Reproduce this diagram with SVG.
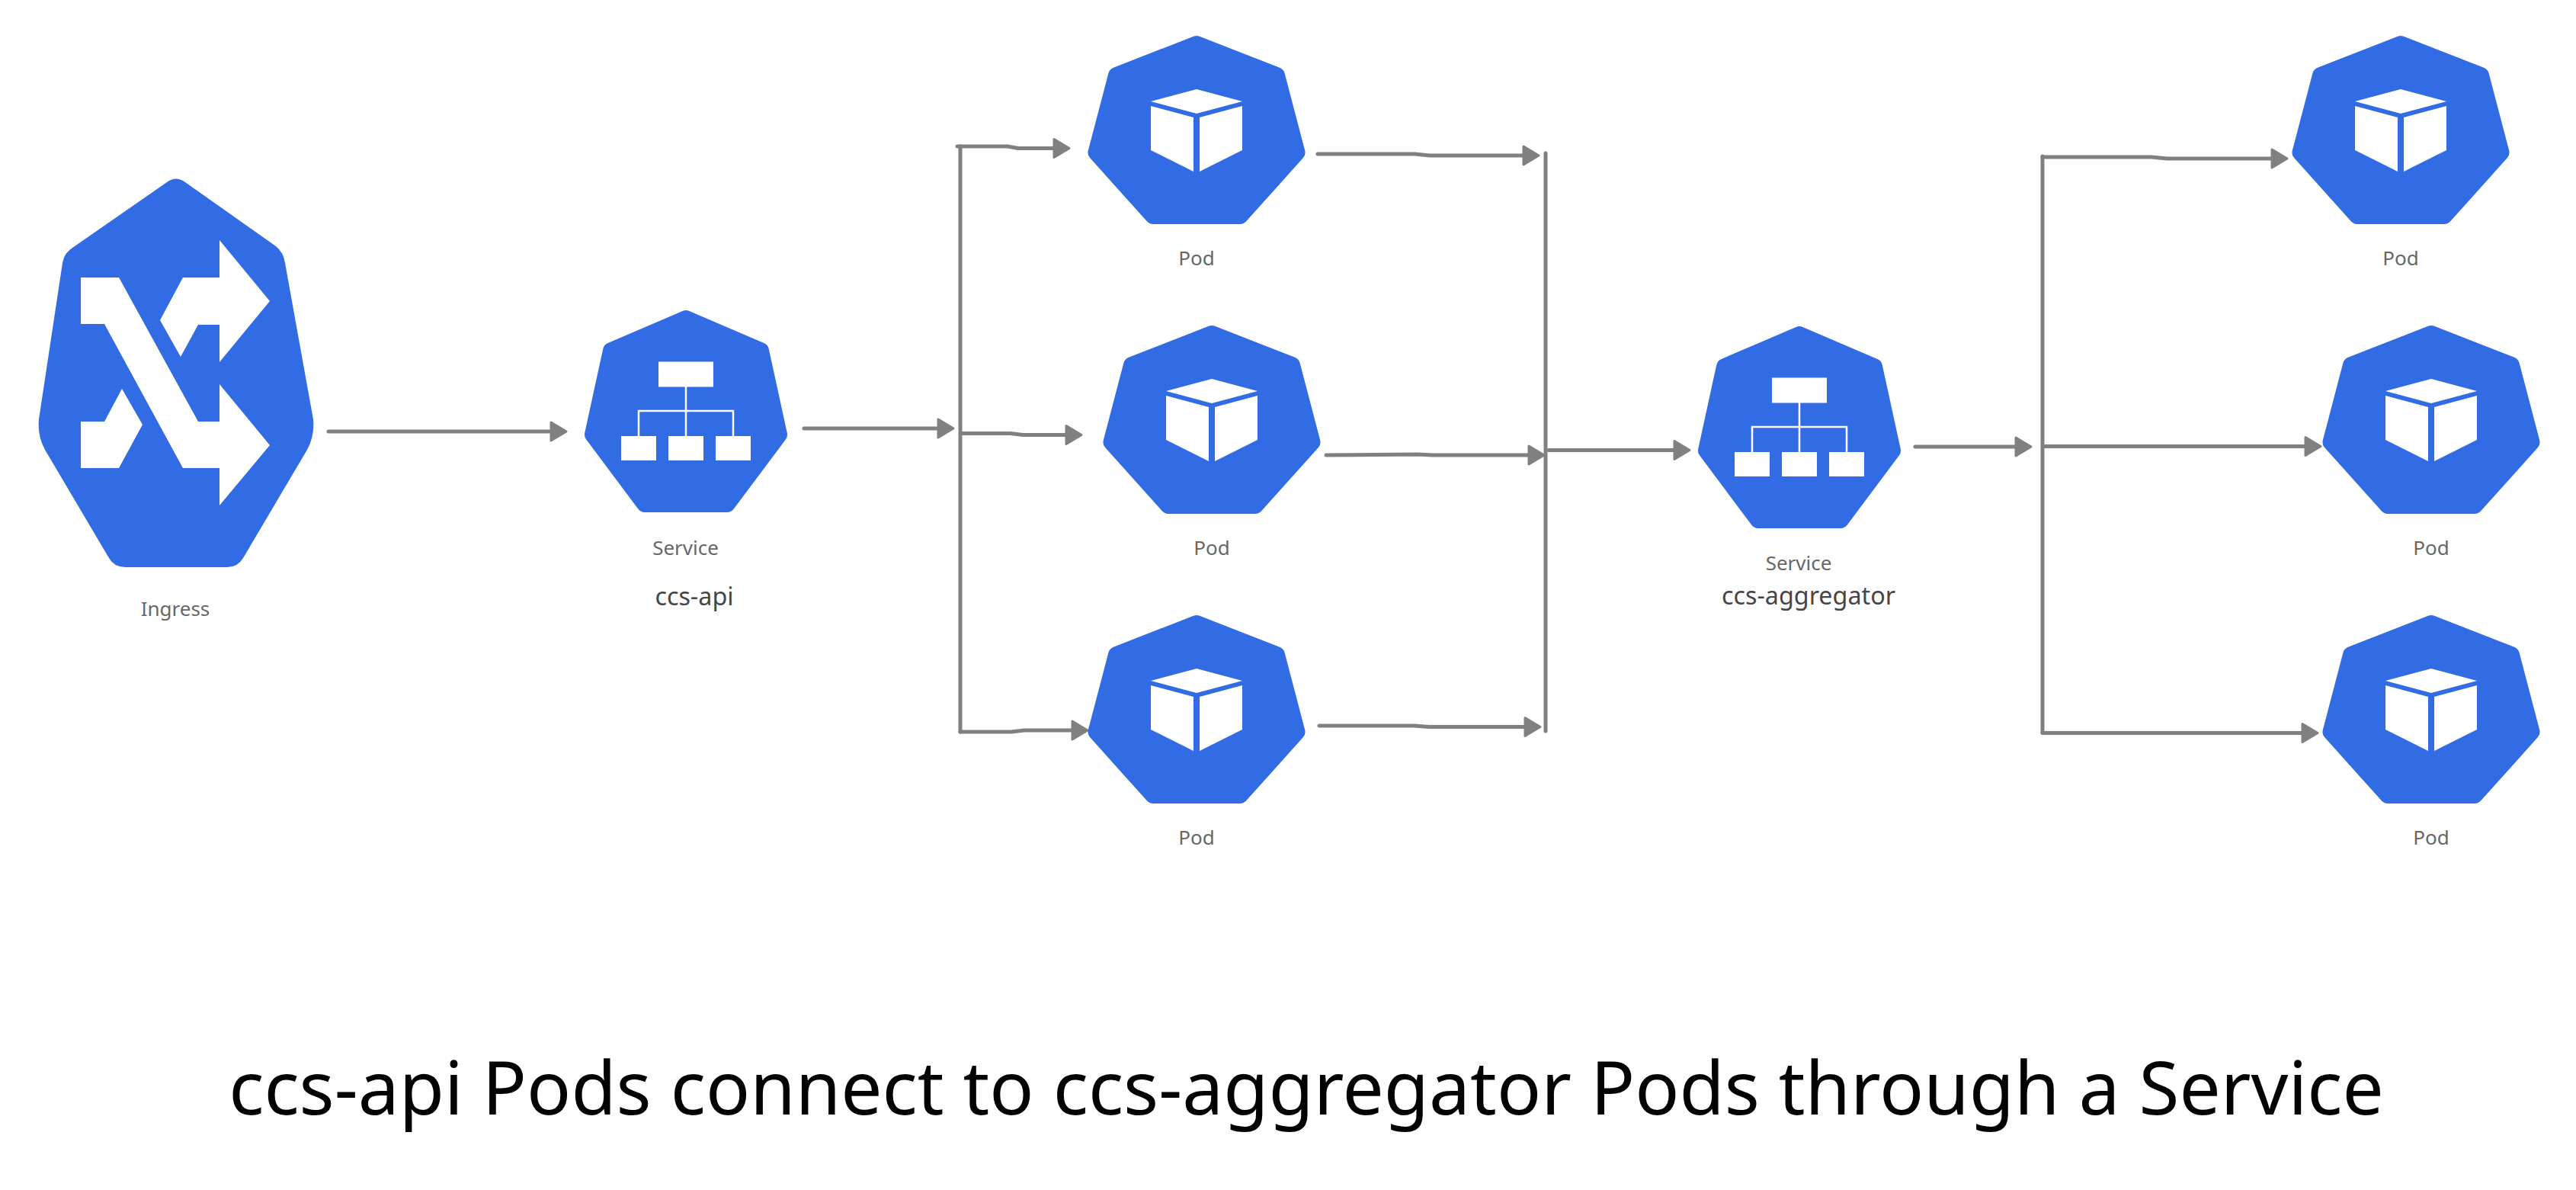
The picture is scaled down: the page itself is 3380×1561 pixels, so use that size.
<svg xmlns="http://www.w3.org/2000/svg" width="3380" height="1561" viewBox="0 0 3380 1561">
<style>
.hex{fill:#326ce5;stroke:#326ce5;stroke-width:22;stroke-linejoin:round}
.w{fill:#fff}
.wl{fill:none;stroke:#fff;stroke-width:2.5}
.c{fill:none;stroke:#808080;stroke-width:5;stroke-linecap:round;stroke-linejoin:round}
.a{marker-end:url(#head)}
text{font-family:"Noto Sans","DejaVu Sans",sans-serif;text-anchor:middle;opacity:.99}
.l{font-size:26px;fill:#666}
.n{font-size:32.3px;fill:#444}
.t{font-size:96.3px;fill:#000}
</style>
<defs>
<marker id="head" markerUnits="userSpaceOnUse" markerWidth="26" markerHeight="30" viewBox="0 0 26 30" refX="12" refY="15" orient="auto">
<polygon points="2,3 22,15 2,27" fill="#808080" stroke="#808080" stroke-width="3" stroke-linejoin="round"/>
</marker>
<g id="pod">
<polygon class="hex" points="0,11 105,52 131.5,153 57,236 -57,236 -131.5,153 -105,52"/>
<polygon class="w" points="0,70 60,86 0,102 -60,86"/>
<polygon class="w" points="-60,92 -4,107 -4,178 -60,150"/>
<polygon class="w" points="60,92 4,107 4,178 60,150"/>
</g>
<g id="svc">
<polygon class="hex" points="0,11 98,53 122,163 54,254 -54,254 -122,163 -98,53"/>
<rect class="w" x="-36" y="67.5" width="72" height="33"/>
<path class="wl" d="M0,100V165M-62,165V132H62V165"/>
<rect class="w" x="-85" y="165" width="46" height="32"/>
<rect class="w" x="-23" y="165" width="46" height="32"/>
<rect class="w" x="39" y="165" width="46" height="32"/>
</g>
</defs>
<g id="connectors">
<path class="c a" d="M431,566H733"/>
<path class="c a" d="M1055,562H1241"/>
<path class="c" d="M1260,192V960"/>
<path class="c a" d="M1256,192H1322L1336,194.5H1393"/>
<path class="c a" d="M1262,568.5H1326L1342,570.5H1409"/>
<path class="c a" d="M1260,960L1327,960L1344,958H1417"/>
<path class="c a" d="M1729,202H1856L1876,204H2009"/>
<path class="c a" d="M1740,597L1860,596L1880,597H2016"/>
<path class="c a" d="M1731,952H1856L1875,953.5H2011"/>
<path class="c" d="M2028,201V959"/>
<path class="c a" d="M2032,590.5H2207"/>
<path class="c a" d="M2513,586H2655"/>
<path class="c" d="M2680,205V961.5"/>
<path class="c a" d="M2680,206H2823L2843,208H2991"/>
<path class="c a" d="M2683,585.5H3035"/>
<path class="c a" d="M2680,961.5H3031"/>
</g>
<g id="ingress">
<path fill="#326ce5" d="M219,239Q231,230 243,239L362,323Q372,331 374,345L411,550Q413,572 403,590L319,732Q312,744 298,744H164Q150,744 143,732L59,590Q49,572 51,550L82,345Q84,331 98,323Z"/>
<polygon class="w" points="106,364 156,364 260,553 288,553 288,504 354,584 288,663 288,614 240,614 137,425 106,425"/>
<polygon class="w" points="210,420 240,364 288,364 288,315 354,395 288,475 288,426 260,426 237,468"/>
<polygon class="w" points="106,553 137,553 160,510 187,557 156,614 106,614"/>
<text class="l" x="230" y="808">Ingress</text>
</g>
<g id="service-api"><use href="#svc" x="900" y="407"/><text class="l" x="899.5" y="727.5">Service</text><text class="n" x="911" y="794">ccs-api</text></g>
<g id="pod-a1"><use href="#pod" x="1570" y="47"/><text class="l" x="1570" y="348">Pod</text></g>
<g id="pod-a2"><use href="#pod" x="1590" y="427"/><text class="l" x="1590" y="728">Pod</text></g>
<g id="pod-a3"><use href="#pod" x="1570" y="807"/><text class="l" x="1570" y="1108">Pod</text></g>
<g id="service-aggregator"><use href="#svc" x="2361" y="428"/><text class="l" x="2360" y="748">Service</text><text class="n" x="2373" y="793">ccs-aggregator</text></g>
<g id="pod-b1"><use href="#pod" x="3150" y="47"/><text class="l" x="3150" y="348">Pod</text></g>
<g id="pod-b2"><use href="#pod" x="3190" y="427"/><text class="l" x="3190" y="728">Pod</text></g>
<g id="pod-b3"><use href="#pod" x="3190" y="807"/><text class="l" x="3190" y="1108">Pod</text></g>
<text class="t" x="1714" y="1462">ccs-api Pods connect to ccs-aggregator Pods through a Service</text>
</svg>
